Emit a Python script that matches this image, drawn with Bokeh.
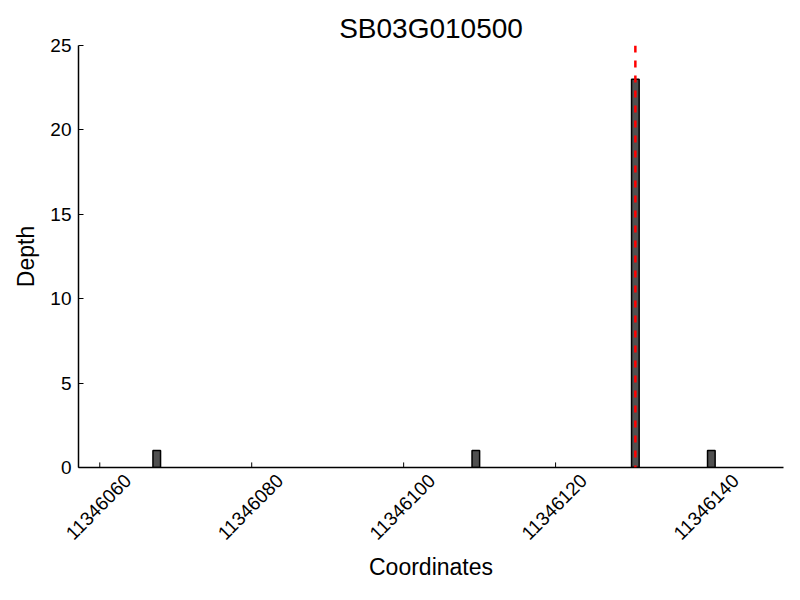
import math
from bokeh.plotting import figure
from bokeh.models import (Span, FixedTicker, BasicTickFormatter, Range1d, ColumnDataSource,
                          LinearAxis)
from bokeh.embed import file_html
from bokeh.resources import INLINE

# data
positions = [11346067, 11346109, 11346130, 11346140]
depths = [1, 1, 23, 1]
highlight_x = 11346130.5
x_ticks = [11346060, 11346080, 11346100, 11346120, 11346140]
y_ticks = [0, 5, 10, 15, 20, 25]
title_text = "SB03G010500"

FONT = "Liberation Sans"
X0, X1 = 11346057.2, 11346150
LABEL_SHIFT = 3.7      # shifts rotated tick labels so they are centred on their ticks
TICK_LEN = 0.3         # inward x tick length (data units of y)

p = figure(width=792, height=592, output_backend="svg", toolbar_location=None,
           x_range=Range1d(X0, X1), y_range=Range1d(0, 25), x_axis_location=None,
           min_border_left=78, min_border_right=9, min_border_top=45, min_border_bottom=125)
p.extra_x_ranges = {"lab": Range1d(X0 - LABEL_SHIFT, X1 - LABEL_SHIFT)}

p.title.text = title_text
p.title.text_font = FONT
p.title.text_font_size = "28px"
p.title.text_font_style = "normal"
p.title.text_color = "black"
p.title.align = "center"
p.title.standoff = 4

src = ColumnDataSource(dict(left=positions, right=[x + 1 for x in positions], top=depths))
p.quad(left="left", right="right", bottom=0, top="top", source=src,
       fill_color="#505050", line_color="black", line_width=1.5)

# inward x ticks
p.segment(x0=x_ticks, y0=[0] * len(x_ticks), x1=x_ticks, y1=[TICK_LEN] * len(x_ticks),
          line_color="black", line_width=1)

p.add_layout(Span(location=highlight_x, dimension="height", line_color="red",
                  line_dash="7 8", line_width=2.5))

p.grid.visible = False
p.outline_line_color = None
p.background_fill_color = "white"
p.border_fill_color = "white"

xax = LinearAxis(x_range_name="lab", ticker=FixedTicker(ticks=x_ticks),
                 formatter=BasicTickFormatter(use_scientific=False))
p.add_layout(xax, "below")

for ax in (xax, p.yaxis[0]):
    ax.axis_line_width = 1.5
    ax.axis_line_color = "black"
    ax.major_tick_in = 5
    ax.major_tick_out = 0
    ax.minor_tick_in = 0
    ax.minor_tick_out = 0
    ax.major_tick_line_color = "black"
    ax.major_label_text_font = FONT
    ax.major_label_text_font_size = "19px"
    ax.major_label_text_color = "black"
    ax.axis_label_text_font = FONT
    ax.axis_label_text_font_size = "23px"
    ax.axis_label_text_font_style = "normal"
    ax.axis_label_text_color = "black"

xax.major_tick_line_color = None
xax.major_label_orientation = math.pi / 4
xax.major_label_standoff = 10
xax.axis_label = "Coordinates"
xax.axis_label_standoff = 6

p.yaxis.ticker = FixedTicker(ticks=y_ticks)
p.yaxis.major_label_standoff = 7
p.yaxis.axis_label = "Depth"
p.yaxis.axis_label_standoff = 8

open("out.html", "w").write(file_html(p, INLINE))
